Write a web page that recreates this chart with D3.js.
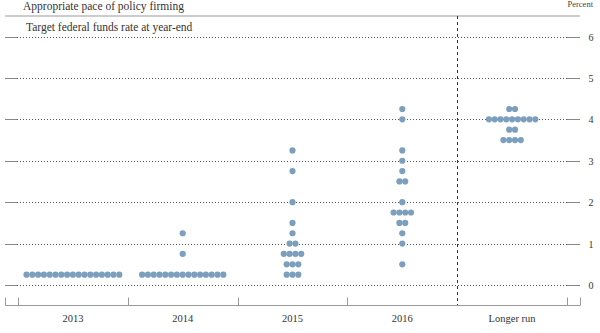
<!DOCTYPE html>
<html><head><meta charset="utf-8">
<script src="https://cdn.jsdelivr.net/npm/d3@7"></script>
<style>body{margin:0;background:#fff}svg{display:block}</style>
</head><body>
<svg id="c" width="600" height="333"></svg>
<script>
const categories = ["2013","2014","2015","2016","Longer run"];
// [rate, number of participants] per category
const dots2013 = [[0.25,17]];
const dots2014 = [[0.25,15],[0.75,1],[1.25,1]];
const dots2015 = [[0.25,3],[0.5,3],[0.75,4],[1.0,2],[1.25,1],[1.5,1],[2.0,1],[2.75,1],[3.25,1]];
const dots2016 = [[0.5,1],[1.0,1],[1.25,1],[1.5,2],[1.75,4],[2.0,1],[2.5,2],[2.75,1],[3.0,1],[3.25,1],[4.0,1],[4.25,1]];
const dotsLonger = [[3.5,4],[3.75,2],[4.0,9],[4.25,2]];
const yTicks = [0,1,2,3,4,5,6];
const title = "Appropriate pace of policy firming";
const subtitle = "Target federal funds rate at year-end";
const unitLabel = "Percent";

const allDots = [dots2013,dots2014,dots2015,dots2016,dotsLonger];
const svg = d3.select("#c");
const font = "'Liberation Serif', 'DejaVu Serif', serif";
const x = d3.scaleBand().domain(categories).range([18,567]);
const y = d3.scaleLinear().domain([0,6]).range([285,36.5]);

// top line
svg.append("line").attr("x1",5).attr("x2",580).attr("y1",16).attr("y2",16).attr("stroke","#999").attr("stroke-width",1);
svg.append("text").attr("x",23).attr("y",10).text(title).attr("font-family",font).attr("font-size",11.5).attr("fill","#333");
svg.append("text").attr("x",26).attr("y",31).text(subtitle).attr("font-family",font).attr("font-size",11.5).attr("fill","#333");
svg.append("text").attr("x",593).attr("y",7).attr("text-anchor","end").text(unitLabel).attr("font-family",font).attr("font-size",8.5).attr("fill","#444");

// gridlines
const g = svg.append("g");
yTicks.forEach(t=>{
  const yy = Math.round(y(t))+0.5;
  g.append("line").attr("x1",5).attr("x2",17).attr("y1",yy).attr("y2",yy).attr("stroke","#888");
  g.append("line").attr("x1",17).attr("x2",567).attr("y1",yy).attr("y2",yy).attr("stroke","#555").attr("stroke-dasharray","1,2");
  g.append("line").attr("x1",567).attr("x2",580).attr("y1",yy).attr("y2",yy).attr("stroke","#888");
  g.append("text").attr("x",591).attr("y",yy+3.5).attr("text-anchor","middle").text(t).attr("font-family",font).attr("font-size",10).attr("fill","#333");
});

// separator
const sepX = Math.round(x("Longer run"))+0.5;
svg.append("line").attr("x1",sepX).attr("x2",sepX).attr("y1",16).attr("y2",305).attr("stroke","#333").attr("stroke-dasharray","3,3").attr("stroke-width",1);

// bottom axis
const axY = 305.5;
svg.append("line").attr("x1",5).attr("x2",580).attr("y1",axY).attr("y2",axY).attr("stroke","#999");
const tickXs = [5,18].concat(categories.slice(1,4).map(c=>x(c)+x.bandwidth())).concat([567,580]);
[5,18,x("2014"),x("2015"),x("2016"),567,580].forEach(tx=>{
  const xx = Math.round(tx)+0.5;
  svg.append("line").attr("x1",xx).attr("x2",xx).attr("y1",axY).attr("y2",axY-8).attr("stroke","#999");
});
categories.forEach(c=>{
  svg.append("text").attr("x",x(c)+x.bandwidth()/2).attr("y",322).attr("text-anchor","middle").text(c).attr("font-family",font).attr("font-size",10.5).attr("fill","#333");
});

// dots
const spacing = 5.8, r = 3.1;
const pts = [];
categories.forEach((c,ci)=>{
  const cx = x(c)+x.bandwidth()/2;
  allDots[ci].forEach(([v,n])=>{
    for(let i=0;i<n;i++) pts.push({x:cx+(i-(n-1)/2)*spacing, y:y(v)});
  });
});
svg.append("g").selectAll("circle").data(pts).join("circle")
  .attr("cx",d=>d.x).attr("cy",d=>d.y).attr("r",r).attr("fill","#7c9fbd");
</script>
</body></html>
